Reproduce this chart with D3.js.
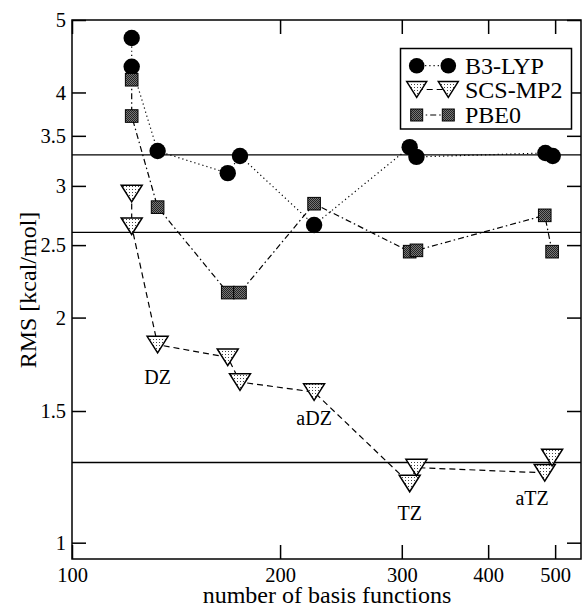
<!DOCTYPE html>
<html>
<head>
<meta charset="utf-8">
<script src="https://cdn.jsdelivr.net/npm/d3@7"></script>
<style>
  body { margin: 0; background: #fff; }
  text { font-family: "Liberation Serif", "Times New Roman", serif; fill: #000; }
</style>
</head>
<body>
<div id="chart"></div>
<script>
// basis function counts and RMS errors
var b3lypX = [122, 122, 133, 168, 175, 224, 308, 315, 484, 496];
var b3lypY = [4.73, 4.33, 3.34, 3.12, 3.29, 2.66, 3.38, 3.28, 3.32, 3.29];

var scsX = [122, 122, 133, 168, 175, 224, 308, 315, 483, 495];
var scsY = [2.93, 2.65, 1.84, 1.77, 1.64, 1.59, 1.20, 1.26, 1.24, 1.30];

var pbeX = [122, 122, 133, 168, 175, 224, 308, 315, 483, 495];
var pbeY = [4.16, 3.72, 2.81, 2.16, 2.16, 2.84, 2.45, 2.46, 2.74, 2.45];

var refLines = [3.3, 2.6, 1.28];

var xTicks = [100, 200, 300, 400, 500];
var yTicks = [1, 1.5, 2, 2.5, 3, 3.5, 4, 5];

var basisNames = ["DZ", "aDZ", "TZ", "aTZ"];
var basisX = [133, 224, 308, 463];
var basisY = [1.664, 1.467, 1.097, 1.147];

var seriesNames = ["B3-LYP", "SCS-MP2", "PBE0"];

var width = 582, height = 608;
var pLeft = 72, pRight = 581, pTop = 20, pBottom = 559;

var svg = d3.select("#chart").append("svg")
    .attr("width", width)
    .attr("height", height);

var defs = svg.append("defs");
var tp = defs.append("pattern").attr("id", "triPat")
    .attr("patternUnits", "userSpaceOnUse").attr("width", 3).attr("height", 3);
tp.append("rect").attr("width", 3).attr("height", 3).attr("fill", "#fff");
tp.append("rect").attr("width", 1).attr("height", 1).attr("fill", "#444");
var sp = defs.append("pattern").attr("id", "sqPat")
    .attr("patternUnits", "userSpaceOnUse").attr("width", 2).attr("height", 2);
sp.append("rect").attr("width", 2).attr("height", 2).attr("fill", "#777");
sp.append("rect").attr("width", 1).attr("height", 1).attr("fill", "#222");
sp.append("rect").attr("x", 1).attr("y", 1).attr("width", 1).attr("height", 1).attr("fill", "#222");

var x = d3.scaleLog().domain([100, 545]).range([pLeft, pRight]);
var y = d3.scaleLog().domain([0.951, 5]).range([pBottom, pTop]);

// reference lines
svg.selectAll(".ref").data(refLines).enter().append("line")
    .attr("x1", pLeft).attr("x2", pRight)
    .attr("y1", function(d) { return y(d); })
    .attr("y2", function(d) { return y(d); })
    .attr("stroke", "#000").attr("stroke-width", 1.3);

// axes, ticks pointing inward
var fmt = function(d) { return String(d); };
svg.append("g").attr("transform", "translate(0," + pBottom + ")")
    .call(d3.axisBottom(x).tickValues(xTicks).tickFormat(fmt).tickSize(-14).tickPadding(8));
svg.append("g").attr("transform", "translate(0," + pTop + ")")
    .call(d3.axisTop(x).tickValues(xTicks).tickFormat("").tickSize(-14));
svg.append("g").attr("transform", "translate(" + pLeft + ",0)")
    .call(d3.axisLeft(y).tickValues(yTicks).tickFormat(fmt).tickSize(-14).tickPadding(6));
svg.append("g").attr("transform", "translate(" + pRight + ",0)")
    .call(d3.axisRight(y).tickValues(yTicks).tickFormat("").tickSize(-14));

svg.selectAll(".domain").remove();
svg.selectAll(".tick line").attr("stroke", "#000").attr("stroke-width", 1.5);
svg.selectAll(".tick text").style("font-size", "20.5px").style("font-family", "Liberation Serif, serif");

svg.append("rect")
    .attr("x", pLeft).attr("y", pTop)
    .attr("width", pRight - pLeft).attr("height", pBottom - pTop)
    .attr("fill", "none").attr("stroke", "#000").attr("stroke-width", 1.5);

// series
var line = d3.line().x(function(d) { return x(d[0]); }).y(function(d) { return y(d[1]); });

function drawSeries(xs, ys, dash, symbol) {
    var pts = xs.map(function(v, i) { return [v, ys[i]]; });
    svg.append("path").datum(pts).attr("d", line)
        .attr("fill", "none").attr("stroke", "#000").attr("stroke-width", 1.2)
        .attr("stroke-dasharray", dash);
    var g = svg.append("g");
    pts.forEach(function(p) { symbol(g, x(p[0]), y(p[1]), 1); });
}

function circleSym(g, cx, cy, s) {
    g.append("circle").attr("cx", cx).attr("cy", cy).attr("r", 8.2 * s).attr("fill", "#000");
}
function triSym(g, cx, cy, s) {
    var w = 10.5 * s, h = 8.3 * s;
    g.append("path")
        .attr("d", "M" + (cx - w) + "," + (cy - h) + "L" + (cx + w) + "," + (cy - h) + "L" + cx + "," + (cy + h) + "Z")
        .attr("fill", "url(#triPat)").attr("stroke", "#000").attr("stroke-width", 1.5);
}
function sqSym(g, cx, cy, s) {
    var a = 6.3 * s;
    g.append("rect").attr("x", cx - a).attr("y", cy - a).attr("width", 2 * a).attr("height", 2 * a)
        .attr("fill", "url(#sqPat)").attr("stroke", "#000").attr("stroke-width", 1);
}

var dashes = ["1.2,3", "6,4", "6,3,1.5,3"];
var symbols = [circleSym, triSym, sqSym];

drawSeries(b3lypX, b3lypY, dashes[0], symbols[0]);
drawSeries(scsX, scsY, dashes[1], symbols[1]);
drawSeries(pbeX, pbeY, dashes[2], symbols[2]);

// basis set annotations
svg.selectAll(".basis").data(basisNames).enter().append("text")
    .attr("x", function(d, i) { return x(basisX[i]); })
    .attr("y", function(d, i) { return y(basisY[i]); })
    .attr("dy", "0.35em")
    .attr("text-anchor", "middle")
    .style("font-size", "20px")
    .text(function(d) { return d; });

// legend
var lg = svg.append("g");
lg.append("rect").attr("x", 400.5).attr("y", 48.5).attr("width", 171).attr("height", 80.5)
    .attr("fill", "#fff").attr("stroke", "#000").attr("stroke-width", 1.5);
var rowY = [65.7, 89.5, 115];
seriesNames.forEach(function(name, i) {
    lg.append("line").attr("x1", 416.7).attr("x2", 448.3).attr("y1", rowY[i]).attr("y2", rowY[i])
        .attr("stroke", "#000").attr("stroke-width", 1.2).attr("stroke-dasharray", dashes[i]);
    symbols[i](lg, 416.7, rowY[i], 0.95);
    symbols[i](lg, 448.3, rowY[i], 0.95);
    lg.append("text").attr("x", 465).attr("y", rowY[i]).attr("dy", "0.34em")
        .style("font-size", "24px").text(name);
});

// axis titles
svg.append("text").attr("x", 327).attr("y", 603)
    .attr("text-anchor", "middle").style("font-size", "24px")
    .text("number of basis functions");
svg.append("text").attr("transform", "translate(36,290) rotate(-90)")
    .attr("text-anchor", "middle").style("font-size", "24px")
    .text("RMS [kcal/mol]");
</script>
</body>
</html>
